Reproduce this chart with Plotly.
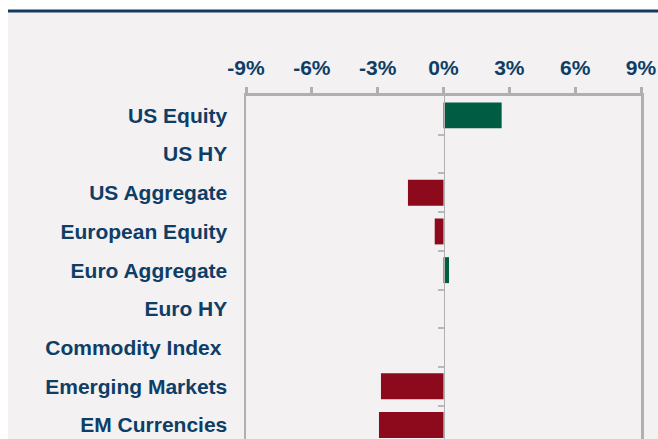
import plotly.graph_objects as go

categories = ["US Equity", "US HY", "US Aggregate", "European Equity", "Euro Aggregate",
              "Euro HY", "Commodity Index ", "Emerging Markets", "EM Currencies"]
values = [2.65, None, -1.62, -0.4, 0.25, None, None, -2.85, -2.94]
tick_vals = [-9, -6, -3, 0, 3, 6, 9]
tick_text = ["-9%", "-6%", "-3%", "0%", "3%", "6%", "9%"]

W, H = 658, 439
ML, MR, MT, MB = 246, 17, 96, 0
PW, PH = W - ML - MR, H - MT - MB

GREEN = "#005c43"
RED = "#8c0a1b"
NAVY = "#0e3d66"
GRAY = "#b0b0b0"
BG = "#f3f1f2"

def px_x(p):
    return (p - ML) / PW

def px_y(p):
    return (H - MB - p) / PH

colors = [GREEN if (v is not None and v >= 0) else RED for v in values]

fig = go.Figure()
fig.add_trace(go.Bar(
    x=values, y=list(range(len(categories))), orientation="h",
    marker=dict(color=colors, line=dict(width=0)),
    showlegend=False, hoverinfo="skip",
))
# invisible trace to carry the zero-line axis
fig.add_trace(go.Scatter(x=[0], y=[0], yaxis="y2", mode="markers",
                         marker=dict(opacity=0), showlegend=False, hoverinfo="skip"))

n = len(categories)
row_px = 38.7
yrange = [-0.5 + PH / row_px, -0.5]

font = dict(family="Arial, Liberation Sans, sans-serif", size=21, color=NAVY, weight="bold")

fig.update_layout(
    width=W, height=H,
    margin=dict(l=ML, r=MR, t=MT, b=MB, pad=0),
    paper_bgcolor="white",
    plot_bgcolor=BG,
    bargap=0.33,
    xaxis=dict(
        range=[-9, 9], side="top", tickvals=tick_vals, ticktext=tick_text,
        showline=True, linecolor=GRAY, linewidth=3, mirror=False,
        ticks="outside", ticklen=6, tickwidth=3, tickcolor=GRAY,
        showgrid=False, zeroline=False, tickfont=font, ticklabelstandoff=4,
        fixedrange=True,
    ),
    yaxis=dict(
        range=yrange, tickvals=list(range(n)), ticktext=categories,
        showline=True, mirror=True, linecolor=GRAY, linewidth=2.5,
        ticks="outside", ticklen=12, tickcolor="rgba(0,0,0,0)",
        showgrid=False, zeroline=False, tickfont=font,
    ),
    yaxis2=dict(
        range=yrange, overlaying="y", anchor="free", position=0.5, side="left",
        showline=True, linecolor=GRAY, linewidth=1.5,
        ticks="outside", ticklen=6, tickwidth=2, tickcolor="#b8b8b8",
        tickvals=[i + 0.5 for i in range(n)], showticklabels=False,
        showgrid=False, zeroline=False,
    ),
    shapes=[
        dict(type="rect", xref="paper", yref="paper", layer="below",
             x0=px_x(8), x1=px_x(W + 2), y0=px_y(H + 2), y1=px_y(12),
             fillcolor=BG, line=dict(width=0)),
        dict(type="line", xref="paper", yref="paper",
             x0=px_x(8), x1=px_x(W + 2), y0=px_y(11), y1=px_y(11),
             line=dict(color="#173a63", width=3)),
    ],
)

fig.write_html(
    "out.html",
    config={"displayModeBar": False, "staticPlot": True},
    post_script="document.documentElement.style.overflow='hidden';"
                "document.body.style.margin='0';",
)
